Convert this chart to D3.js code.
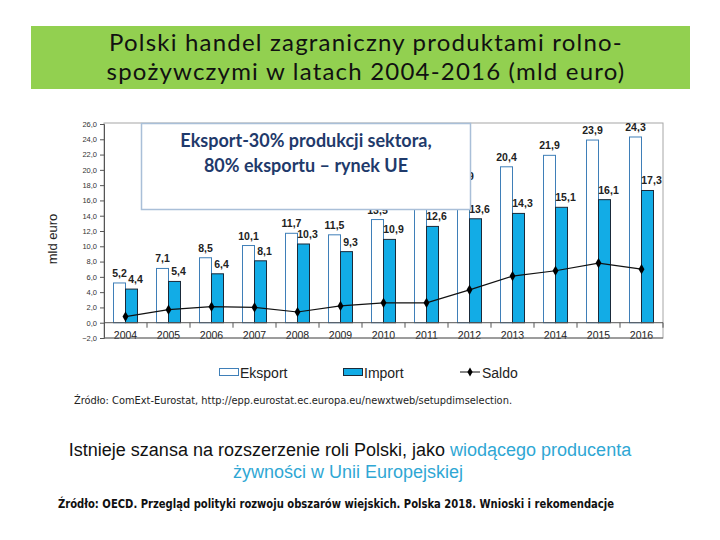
<!DOCTYPE html>
<html>
<head>
<meta charset="utf-8">
<script src="https://cdn.jsdelivr.net/npm/d3@7"></script>
<style>
  body { margin: 0; background: #fff; }
  svg { display: block; }
</style>
</head>
<body>
<div id="chart"></div>
<script>
const years = ["2004", "2005", "2006", "2007", "2008", "2009", "2010", "2011", "2012", "2013", "2014", "2015", "2016"];
const eksport = [5.2, 7.1, 8.5, 10.1, 11.7, 11.5, 13.5, 15.2, 17.9, 20.4, 21.9, 23.9, 24.3];
const importV = [4.4, 5.4, 6.4, 8.1, 10.3, 9.3, 10.9, 12.6, 13.6, 14.3, 15.1, 16.1, 17.3];
const saldo = [0.8, 1.7, 2.1, 2.0, 1.4, 2.2, 2.6, 2.6, 4.3, 6.1, 6.8, 7.8, 7.0];
const yTicks = d3.range(-2, 27, 2);

const W = 720, H = 540;
const fmt = v => d3.format(".1f")(v).replace(".", ",");

const svg = d3.select("#chart").append("svg")
  .attr("width", W).attr("height", H);

// title banner
svg.append("rect")
  .attr("x", 31).attr("y", 26).attr("width", 659).attr("height", 63)
  .attr("fill", "#92d050");
const title = ["Polski handel zagraniczny produktami rolno-", "spożywczymi w latach 2004-2016 (mld euro)"];
svg.selectAll(".title").data(title).enter().append("text")
  .attr("x", 366).attr("y", (d, i) => 51 + i * 29)
  .attr("text-anchor", "middle")
  .attr("font-family", "Lato")
  .attr("font-size", 24)
  .attr("letter-spacing", 1.2)
  .attr("fill", "#111")
  .text(d => d);

// plot
const pLeft = 104, pRight = 663, pTop = 124, pBottom = 338;
const x = d3.scaleBand().domain(years).range([pLeft, pRight]);
const y = d3.scaleLinear().domain([-2, 26]).range([pBottom, pTop]);
const bw = 12;

const g = svg.append("g");

// frame
g.append("rect")
  .attr("x", pLeft).attr("y", pTop - 1).attr("width", pRight - pLeft).attr("height", pBottom - pTop + 1)
  .attr("fill", "none").attr("stroke", "#a6a6a6").attr("stroke-width", 1);

// y axis
const yAxis = d3.axisLeft(y).tickValues(yTicks).tickFormat(fmt).tickSize(4).tickPadding(3);
g.append("g").attr("transform", `translate(${pLeft},0)`).call(yAxis)
  .call(a => a.select(".domain").attr("stroke", "#555"))
  .call(a => a.selectAll(".tick line").attr("stroke", "#555"))
  .call(a => a.selectAll("text").attr("font-family", "Liberation Sans").attr("font-size", 7.5).attr("fill", "#333"));

svg.append("text")
  .attr("transform", `translate(57,${(pTop + pBottom) / 2 + 8}) rotate(-90)`)
  .attr("text-anchor", "middle")
  .attr("font-family", "Liberation Sans")
  .attr("font-size", 13)
  .attr("fill", "#222")
  .text("mld euro");

// bars
g.selectAll(".eks").data(years).enter().append("rect")
  .attr("x", d => x(d) + x.bandwidth() / 2 - bw)
  .attr("y", (d, i) => y(eksport[i]))
  .attr("width", bw)
  .attr("height", (d, i) => y(0) - y(eksport[i]))
  .attr("fill", "#fff").attr("stroke", "#3f7fb8").attr("stroke-width", 1);

g.selectAll(".imp").data(years).enter().append("rect")
  .attr("x", d => x(d) + x.bandwidth() / 2)
  .attr("y", (d, i) => y(importV[i]))
  .attr("width", bw)
  .attr("height", (d, i) => y(0) - y(importV[i]))
  .attr("fill", "#12ace6").attr("stroke", "#1a2a3a").attr("stroke-width", 1);

// x axis at zero
g.append("line")
  .attr("x1", pLeft).attr("x2", pRight).attr("y1", y(0)).attr("y2", y(0))
  .attr("stroke", "#555");
g.selectAll(".xt").data(years).enter().append("line")
  .attr("x1", (d, i) => pLeft + x.step() * (i + 1))
  .attr("x2", (d, i) => pLeft + x.step() * (i + 1))
  .attr("y1", y(0)).attr("y2", y(0) + 5)
  .attr("stroke", "#555");
g.selectAll(".yl").data(years).enter().append("text")
  .attr("x", d => x(d) + x.bandwidth() / 2)
  .attr("y", pBottom + 1)
  .attr("text-anchor", "middle")
  .attr("font-family", "Liberation Sans")
  .attr("font-size", 10.5)
  .attr("fill", "#222")
  .text(d => d);
g.append("line")
  .attr("x1", pLeft).attr("x2", pRight).attr("y1", pBottom).attr("y2", pBottom)
  .attr("stroke", "#666");

// value labels
const lab = (arr, dx) => g.selectAll(null).data(years).enter().append("text")
  .attr("x", (d, i) => x(d) + x.bandwidth() / 2 + dx)
  .attr("y", (d, i) => y(arr[i]) - 6)
  .attr("text-anchor", "middle")
  .attr("font-family", "Liberation Sans")
  .attr("font-weight", "bold")
  .attr("font-size", 10.5)
  .attr("fill", "#222")
  .text((d, i) => fmt(arr[i]));
lab(eksport, -bw / 2);
lab(importV, bw / 2 + 4);

// saldo line
const line = d3.line()
  .x((d, i) => x(years[i]) + x.bandwidth() / 2)
  .y(d => y(d));
g.append("path").datum(saldo)
  .attr("d", line).attr("fill", "none").attr("stroke", "#111").attr("stroke-width", 1.2);
g.selectAll(".mk").data(saldo).enter().append("path")
  .attr("d", d3.symbol(d3.symbolDiamond, 30))
  .attr("transform", (d, i) => `translate(${x(years[i]) + x.bandwidth() / 2},${y(d)})`)
  .attr("fill", "#000");

// text box over the chart
svg.append("rect")
  .attr("x", 141.5).attr("y", 123.5).attr("width", 329).attr("height", 86)
  .attr("fill", "#fff").attr("stroke", "#a9bfd8").attr("stroke-width", 1.5);
const boxText = ["Eksport-30% produkcji sektora,", "80% eksportu – rynek UE"];
svg.selectAll(".bt").data(boxText).enter().append("text")
  .attr("x", 306).attr("y", (d, i) => 147 + i * 25)
  .attr("text-anchor", "middle")
  .attr("font-family", "Lato")
  .attr("font-weight", "bold")
  .attr("font-size", 18)
  .attr("fill", "#1f3a6b")
  .text(d => d);

// legend
const lg = svg.append("g").attr("font-family", "Liberation Sans").attr("font-size", 14).attr("fill", "#222");
lg.append("rect").attr("x", 219.5).attr("y", 368.5).attr("width", 19).attr("height", 7)
  .attr("fill", "#fff").attr("stroke", "#3f7fb8");
lg.append("text").attr("x", 240).attr("y", 378).text("Eksport");
lg.append("rect").attr("x", 343.5).attr("y", 368.5).attr("width", 19).attr("height", 7)
  .attr("fill", "#12ace6").attr("stroke", "#1a2a3a");
lg.append("text").attr("x", 364).attr("y", 378).text("Import");
lg.append("line").attr("x1", 460).attr("x2", 480).attr("y1", 372).attr("y2", 372).attr("stroke", "#111");
lg.append("path").attr("d", d3.symbol(d3.symbolDiamond, 24)).attr("transform", "translate(470,372)").attr("fill", "#000");
lg.append("text").attr("x", 482).attr("y", 378).text("Saldo");

// source + notes
svg.append("text")
  .attr("x", 74).attr("y", 404)
  .attr("font-family", "DejaVu Sans")
  .attr("font-stretch", "condensed")
  .attr("font-size", 11)
  .attr("textLength", 438).attr("lengthAdjust", "spacingAndGlyphs")
  .attr("fill", "#222")
  .text("Źródło: ComExt-Eurostat, http://epp.eurostat.ec.europa.eu/newxtweb/setupdimselection.");

const note = svg.append("g").attr("font-family", "Liberation Sans").attr("font-size", 18).attr("text-anchor", "middle");
const t1 = note.append("text").attr("x", 350).attr("y", 456).attr("fill", "#111");
t1.append("tspan").text("Istnieje szansa na rozszerzenie roli Polski, jako ");
t1.append("tspan").attr("fill", "#2fa7d4").text("wiodącego producenta");
note.append("text").attr("x", 348).attr("y", 478).attr("fill", "#2fa7d4").text("żywności w Unii Europejskiej");

svg.append("text")
  .attr("x", 58).attr("y", 508)
  .attr("font-family", "DejaVu Sans")
  .attr("font-stretch", "condensed")
  .attr("font-weight", "bold")
  .attr("font-size", 12.5)
  .attr("textLength", 556).attr("lengthAdjust", "spacingAndGlyphs")
  .attr("fill", "#111")
  .text("Źródło: OECD. Przegląd polityki rozwoju obszarów wiejskich. Polska 2018. Wnioski i rekomendacje");
</script>
</body>
</html>
